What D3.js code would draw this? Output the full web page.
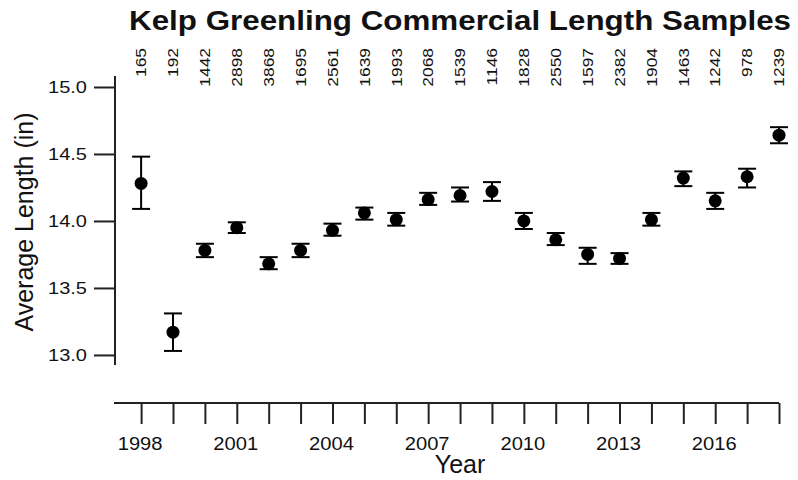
<!DOCTYPE html>
<html>
<head>
<meta charset="utf-8">
<script src="https://cdn.jsdelivr.net/npm/d3@7"></script>
<style>
  html, body { margin: 0; padding: 0; background: #fff; }
  svg { display: block; }
  text { font-family: "Liberation Sans", Arial, sans-serif; fill: #111; }
</style>
</head>
<body>
<script>
// ---- data ----
const years = [1998,1999,2000,2001,2002,2003,2004,2005,2006,2007,2008,2009,2010,2011,2012,2013,2014,2015,2016,2017,2018];
const meanLength = [14.28,13.17,13.78,13.95,13.68,13.78,13.93,14.06,14.01,14.16,14.19,14.22,14.00,13.86,13.75,13.72,14.01,14.32,14.15,14.33,14.64];
const upperCI = [14.48,13.31,13.83,13.99,13.73,13.83,13.98,14.10,14.06,14.21,14.25,14.29,14.06,13.91,13.80,13.76,14.06,14.37,14.21,14.39,14.70];
const lowerCI = [14.09,13.03,13.73,13.91,13.64,13.73,13.89,14.01,13.965,14.12,14.145,14.15,13.94,13.82,13.68,13.68,13.965,14.26,14.09,14.25,14.58];
const sampleCounts = [165,192,1442,2898,3868,1695,2561,1639,1993,2068,1539,1146,1828,2550,1597,2382,1904,1463,1242,978,1239];
const yTicks = [13.0,13.5,14.0,14.5,15.0];
const xLabelYears = [1998,2001,2004,2007,2010,2013,2016];
const title = "Kelp Greenling Commercial Length Samples";
const yTitle = "Average Length (in)";
const xTitle = "Year";

// ---- layout ----
const W = 798, H = 480;
const svg = d3.select("body").append("svg").attr("width", W).attr("height", H);

const x = d3.scaleLinear().domain([1997.15, 2018]).range([114, 779]);
const y = d3.scaleLinear().domain([12.925, 15.082]).range([365, 76]);

// helper for stretched text
function stext(g, tx, ty, str, opts) {
  const t = g.append("text")
    .attr("transform", `translate(${tx},${ty}) rotate(${opts.rot||0}) scale(${opts.k||1},1)`)
    .attr("text-anchor", opts.anchor || "middle")
    .attr("font-size", opts.size)
    .attr("font-weight", opts.weight || "normal")
    .text(str);
  if (opts.dy) t.attr("dy", opts.dy);
  return t;
}

// Title
stext(svg, 460, 30, title, {size: 28, weight: "bold", k: 1.12});

// Y axis
const yAxis = d3.axisLeft(y).tickValues(yTicks).tickSize(21).tickFormat("");
const gy = svg.append("g").attr("transform", "translate(115,0)").call(yAxis);
gy.selectAll("path, line").attr("stroke", "#222").attr("stroke-width", 2);
gy.select(".domain").attr("d", `M0,${y.range()[0]}V${y.range()[1]}`);
yTicks.forEach(v => {
  stext(svg, 87, y(v), d3.format(".1f")(v), {size: 16, k: 1.25, anchor: "end", dy: "0.36em"});
});

// X axis
const xAxis = d3.axisBottom(x).tickValues(years).tickSize(21).tickFormat("");
const gx = svg.append("g").attr("transform", "translate(0,403)").call(xAxis);
gx.selectAll("path, line").attr("stroke", "#222").attr("stroke-width", 2);
gx.select(".domain").attr("d", `M${x.range()[0]},0H${x.range()[1]}`);
xLabelYears.forEach(yr => {
  stext(svg, x(yr) - 1, 450, String(yr), {size: 18.5, k: 1.09});
});

// Axis titles
stext(svg, 460, 473, xTitle, {size: 25});
stext(svg, 33, 222, yTitle, {size: 25, rot: -90});

// Sample counts on top
years.forEach((yr, i) => {
  stext(svg, x(yr), 48, String(sampleCounts[i]), {size: 14.5, k: 1.2, rot: -90, anchor: "end", dy: "0.36em"});
});

// Error bars and points
const data = years.map((yr, i) => ({yr, m: meanLength[i], lo: lowerCI[i], hi: upperCI[i]}));
const eb = svg.append("g").attr("stroke", "#000").attr("stroke-width", 2);
eb.selectAll("line.v").data(data).join("line").attr("class", "v")
  .attr("x1", d => x(d.yr)).attr("x2", d => x(d.yr))
  .attr("y1", d => y(d.hi)).attr("y2", d => y(d.lo));
eb.selectAll("line.t").data(data).join("line").attr("class", "t")
  .attr("x1", d => x(d.yr) - 9).attr("x2", d => x(d.yr) + 9)
  .attr("y1", d => y(d.hi)).attr("y2", d => y(d.hi));
eb.selectAll("line.b").data(data).join("line").attr("class", "b")
  .attr("x1", d => x(d.yr) - 9).attr("x2", d => x(d.yr) + 9)
  .attr("y1", d => y(d.lo)).attr("y2", d => y(d.lo));
svg.append("g").selectAll("circle").data(data).join("circle")
  .attr("cx", d => x(d.yr)).attr("cy", d => y(d.m)).attr("r", 6.5).attr("fill", "#000");
</script>
</body>
</html>
